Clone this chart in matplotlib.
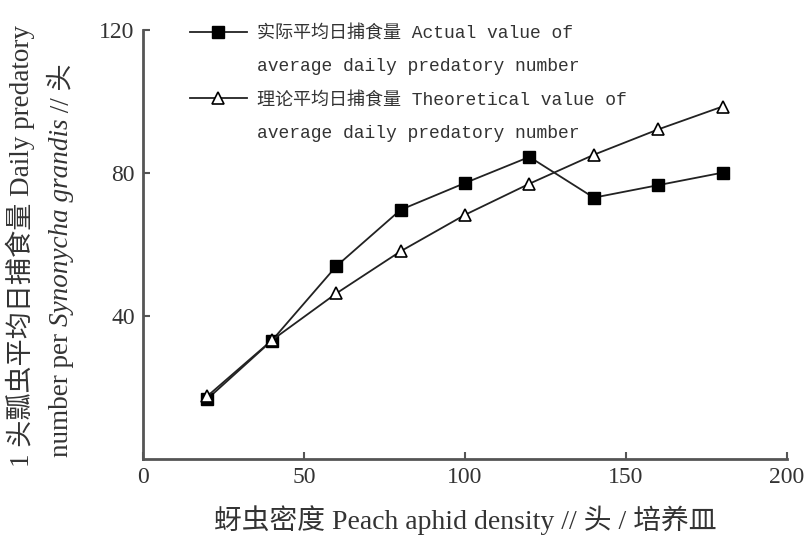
import matplotlib
matplotlib.use("Agg")
import matplotlib.pyplot as plt
from matplotlib.lines import Line2D

# ── Data ────────────────────────────────────────────────────────────────────
density = [20, 40, 60, 80, 100, 120, 140, 160, 180]
actual = [16.8, 33.1, 53.9, 69.7, 77.2, 84.5, 73.1, 76.6, 80.1]
theory = [17.6, 33.2, 46.3, 58.1, 68.3, 77.0, 85.1, 92.2, 98.6]
xticks = [0, 50, 100, 150, 200]
yticks = [40, 80, 120]

label_actual = ["实际平均日捕食量 Actual value of", "average daily predatory number"]
label_theory = ["理论平均日捕食量 Theoretical value of", "average daily predatory number"]

SERIF = ["Liberation Serif", "Noto Sans CJK SC", "DejaVu Sans"]
MONO = ["Liberation Mono", "Noto Sans CJK SC", "DejaVu Sans"]
TXT = "#333333"
AXC = "#555555"

fig = plt.figure(figsize=(8.09, 5.36), dpi=100)
ax = fig.add_axes([143 / 809, 77 / 536, 644 / 809, 429 / 536])

ax.plot(density, actual, color="#222222", lw=1.3, marker="s", ms=8.5,
        mfc="black", mec="black", zorder=3)
ax.plot(density, theory, color="#222222", lw=1.3, marker="^", ms=8,
        mfc="white", mec="black", mew=1.2, zorder=4)

ax.set_xlim(0, 200)
ax.set_ylim(0, 120)
ax.set_xticks(xticks)
ax.set_yticks(yticks)
for s in ("top", "right"):
    ax.spines[s].set_visible(False)
for s in ("left", "bottom"):
    ax.spines[s].set_color(AXC)
    ax.spines[s].set_linewidth(2)
ax.tick_params(direction="in", length=5, width=1.5, color=AXC,
               labelcolor=TXT, labelsize=17, pad=6)
for lab in ax.get_xticklabels() + ax.get_yticklabels():
    lab.set_family(SERIF)

ax.set_xlabel("蚜虫密度 Peach aphid density // 头 / 培养皿",
              family=SERIF, fontsize=20, color=TXT, labelpad=12)

# ── Legend (handle aligned with the first line of each entry) ───────────────
h1 = Line2D([], [], color="#222222", lw=1.3, marker="s", ms=8.5,
            mfc="black", mec="black")
h2 = Line2D([], [], color="#222222", lw=1.3, marker="^", ms=8,
            mfc="white", mec="black", mew=1.2)
blank = Line2D([], [], linestyle="none")
leg = ax.legend([h1, blank, h2, blank],
                [label_actual[0], label_actual[1], label_theory[0], label_theory[1]],
                loc="upper left", bbox_to_anchor=(0.073, 1.012),
                frameon=False, borderpad=0, borderaxespad=0,
                handlelength=3.15, handletextpad=0.55, labelspacing=0.9,
                prop={"family": MONO, "size": 13})
for t in leg.get_texts():
    t.set_color(TXT)

# ── Y label: two rotated lines, italic species name ─────────────────────────
fig.text(20 / 809, 1 - 246 / 536, "1 头瓢虫平均日捕食量 Daily predatory",
         rotation=90, ha="center", va="center", family=SERIF,
         fontsize=19.5, color=TXT)

pieces = [("number per ", "normal"), ("Synonycha grandis", "italic"),
          (" // 头", "normal")]
prev = fig.text(62 / 809, 1 - 457 / 536, pieces[0][0], rotation=90,
                ha="center", va="bottom", family=SERIF, fontsize=19.5,
                color=TXT, style=pieces[0][1])
for txt, st in pieces[1:]:
    prev = ax.annotate(txt, xy=(0.5, 1), xycoords=prev, rotation=90,
                       ha="center", va="bottom", family=SERIF, fontsize=19.5,
                       color=TXT, style=st, annotation_clip=False)

fig.savefig("out.png", dpi=100, facecolor="white")
